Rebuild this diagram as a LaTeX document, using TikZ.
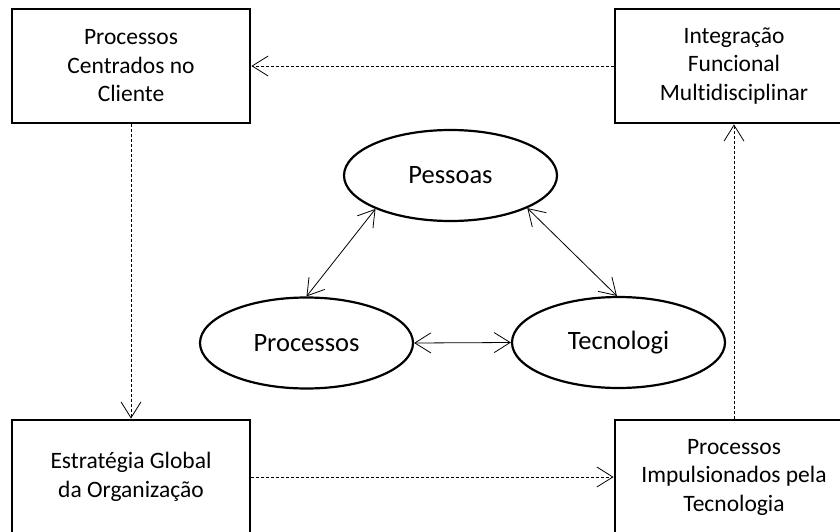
\documentclass[tikz,border=0pt]{standalone}
\usepackage{fontspec}
\setmainfont{Carlito}[Ligatures={NoCommon}]
\usetikzlibrary{arrows.meta,shapes.geometric}

\begin{document}
\begin{tikzpicture}[x=1pt,y=-1pt,
  >={Straight Barb[length=16pt,width=20pt]},
  box/.style={draw, line width=2.8pt, minimum width=238pt, minimum height=114pt,
    align=center, inner sep=0pt, font=\fontsize{23.5}{28.5}\selectfont},
  oval/.style={draw, ellipse, line width=2.2pt, minimum width=213pt, minimum height=91pt,
    inner sep=0pt, font=\fontsize{26.5}{30}\selectfont},
  flow/.style={line width=0.8pt, dash pattern=on 3pt off 2pt, ->},
  duo/.style={line width=0.8pt, <->}]

\useasboundingbox (0,0) rectangle (840,532);
\clip (0,0) rectangle (840,532);

% corner boxes
\node[box] (cli) at (131,66)  {Processos\\Centrados no\\Cliente};
\node[box] (int) at (734,66)  {Integração\\Funcional\\Multidisciplinar};
\node[box] (est) at (131,477) {Estratégia Global\\da Organização};
\node[box] (tec) at (734,477) {Processos\\Impulsionados pela\\Tecnologia};

% central triad
\node[oval] (pe) at (450.5,175.5) {Pessoas};
\node[oval] (pr) at (306.5,343)   {Processos};
\node[oval] (te) at (618.5,342.5) {Tecnologi};

% outer cycle
\draw[flow] (int.west)  -- (cli.east);
\draw[flow] (cli.south) -- (est.north);
\draw[flow] (est.east)  -- (tec.west);
\draw[flow] (tec.north) -- (int.south);

% links between the triad
\draw[duo] (pe.204) -- (pr.north);
\draw[duo] (pe.337) -- (te.92);
\draw[duo] (pr.east) -- (te.west);
\end{tikzpicture}
\end{document}
